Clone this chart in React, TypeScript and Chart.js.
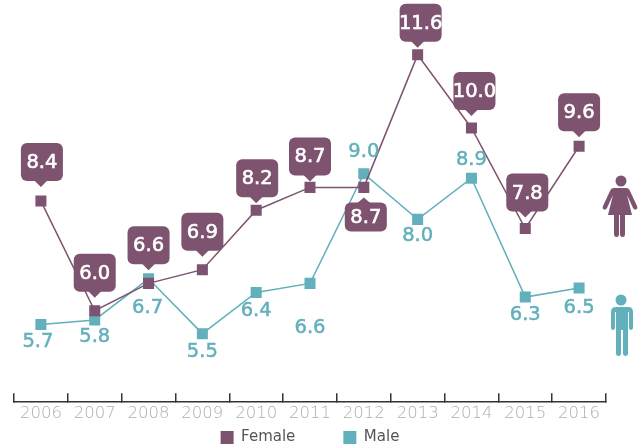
import React, { useEffect, useRef } from "react";
import { Chart, registerables } from "chart.js";

Chart.register(...registerables);

const years = ["2006", "2007", "2008", "2009", "2010", "2011", "2012", "2013", "2014", "2015", "2016"];
const female = [8.4, 6.0, 6.6, 6.9, 8.2, 8.7, 8.7, 11.6, 10.0, 7.8, 9.6];
const male = [5.7, 5.8, 6.7, 5.5, 6.4, 6.6, 9.0, 8.0, 8.9, 6.3, 6.5];

const PURPLE = "#7d5370";
const TEAL = "#62b0bc";
const FONT = '"DejaVu Sans", sans-serif';

// Label placement, in pixels relative to each point
const calloutTip = [-14, -13, -13, -13, -7, -6, 10, -7, -12, -11, -9];
const calloutDx = [1, 0, 0, 0, 1, 0, 2, 3, 3, 2, 0];
const maleLabelDx = [-3, 0, -1, 0, 0, 0, 0, 0, 0, 0, 0];
const maleLabelDy = [17, 17, 29, 18, 18, 45, -22, 17, -18, 18, 20];

function roundRect(ctx: CanvasRenderingContext2D, x: number, y: number, w: number, h: number, r: number) {
  ctx.beginPath();
  ctx.roundRect(x, y, w, h, r);
  ctx.fill();
}

const labelsPlugin = {
  id: "valueLabels",
  afterLayout(chart: any) {
    const lg = chart.legend;
    const h = lg.bottom - lg.top;
    lg.top = 382;
    lg.bottom = 382 + h;
  },
  afterDatasetsDraw(chart: any) {
    const { ctx, scales } = chart;
    const sx = scales.x;
    const sy = scales.y;
    ctx.save();
    ctx.textAlign = "center";
    ctx.textBaseline = "middle";
    ctx.font = `19.5px ${FONT}`;
    ctx.fillStyle = TEAL;
    ctx.strokeStyle = TEAL;
    ctx.lineWidth = 0.5;
    male.forEach((v, i) => {
      const x = sx.getPixelForValue(i) + maleLabelDx[i];
      const y = sy.getPixelForValue(v) + maleLabelDy[i];
      ctx.fillText(v.toFixed(1), x, y);
      ctx.strokeText(v.toFixed(1), x, y);
    });
    const W = 42;
    const H = 38;
    female.forEach((v, i) => {
      const px = sx.getPixelForValue(i);
      const py = sy.getPixelForValue(v);
      const tip = py + calloutTip[i];
      const below = calloutTip[i] > 0;
      const cx = px + calloutDx[i];
      const h = below ? 29 : H;
      const top = below ? tip + 5 : tip - 6 - h;
      ctx.fillStyle = PURPLE;
      roundRect(ctx, cx - W / 2, top, W, h, 6);
      ctx.beginPath();
      ctx.moveTo(px - 7, below ? tip + 6 : tip - 7);
      ctx.lineTo(px, tip);
      ctx.lineTo(px + 7, below ? tip + 6 : tip - 7);
      ctx.closePath();
      ctx.fill();
      ctx.fillStyle = "#fff";
      ctx.strokeStyle = "#fff";
      ctx.lineWidth = 0.6;
      const text = v.toFixed(1);
      ctx.fillText(text, cx, top + h / 2 + 1);
      ctx.strokeText(text, cx, top + h / 2 + 1);
    });
    ctx.restore();
  },
};

export default function App() {
  const ref = useRef<HTMLCanvasElement>(null);
  useEffect(() => {
    const chart = new Chart(ref.current!, {
      type: "line",
      data: {
        labels: years,
        datasets: [
          {
            label: "Female",
            data: female,
            borderColor: PURPLE,
            backgroundColor: PURPLE,
            borderWidth: 1.5,
            pointStyle: "rect",
            pointRadius: 7.8,
            pointBackgroundColor: PURPLE,
            pointBorderWidth: 0,
            tension: 0,
          },
          {
            label: "Male",
            data: male,
            borderColor: TEAL,
            backgroundColor: TEAL,
            borderWidth: 1.5,
            pointStyle: "rect",
            pointRadius: 7.8,
            pointBackgroundColor: TEAL,
            pointBorderWidth: 0,
            tension: 0,
          },
        ],
      },
      options: {
        responsive: false,
        animation: false,
        layout: { autoPadding: false, padding: { left: 14, right: 38, top: 0, bottom: -60 } },
        plugins: {
          tooltip: { enabled: false },
          legend: {
            position: "bottom",
            labels: {
              boxWidth: 13,
              boxHeight: 13,
              padding: 48,
              color: "#555",
              font: { family: FONT, size: 15 },
              generateLabels: (c: any) =>
                c.data.datasets.map((d: any, i: number) => ({
                  text: d.label,
                  fillStyle: d.backgroundColor,
                  strokeStyle: d.backgroundColor,
                  lineWidth: 0,
                  datasetIndex: i,
                  fontColor: "#555",
                })),
            },
          },
        },
        scales: {
          y: { display: false, min: 4, max: 12.8 },
          x: {
            offset: true,
            border: { display: true, color: "#333", width: 1.5 },
            grid: { offset: true, drawOnChartArea: false, tickLength: -9, color: "#333", lineWidth: 1.5 },
            ticks: {
              color: "#a8b0ac",
              padding: 11,
              font: { family: FONT, size: 16.5, weight: "200" },
              maxRotation: 0,
              autoSkip: false,
            },
          },
        },
      } as any,
      plugins: [labelsPlugin],
    });
    return () => chart.destroy();
  }, []);
  return (
    <div style={{ position: "absolute", left: 0, top: 0, width: 644, height: 448, background: "#fff" }}>
      <canvas ref={ref} width={644} height={448} style={{ display: "block" }} />
      <svg width={644} height={448} style={{ position: "absolute", left: 0, top: 0, pointerEvents: "none" }}>
        <g fill={PURPLE}>
          <circle cx={621} cy={181} r={5.5} />
          <path d="M616 188h10q3 0 4 3l7 15q1 3-1 3.5t-3-1.500l-6-13 5 20h-7v19q0 3-2.500 3t-2.500-3v-19h-1v19q0 3-2.500 3t-2.500-3v-19h-6l5-20-6 13q-1 2-3 1.500t-1-3.500l7-15q1-3 4-3z" />
        </g>
        <g fill={TEAL}>
          <circle cx={621} cy={300} r={5.5} />
          <path d="M614 307h14q5 0 5 5v15q0 3-2 3t-2-3v-15h-1v41q0 3-2.500 3t-2.500-3v-23h-2v23q0 3-2.500 3t-2.500-3v-41h-1v15q0 3-2 3t-2-3v-15q0-5 5-5z" />
        </g>
      </svg>
    </div>
  );
}
